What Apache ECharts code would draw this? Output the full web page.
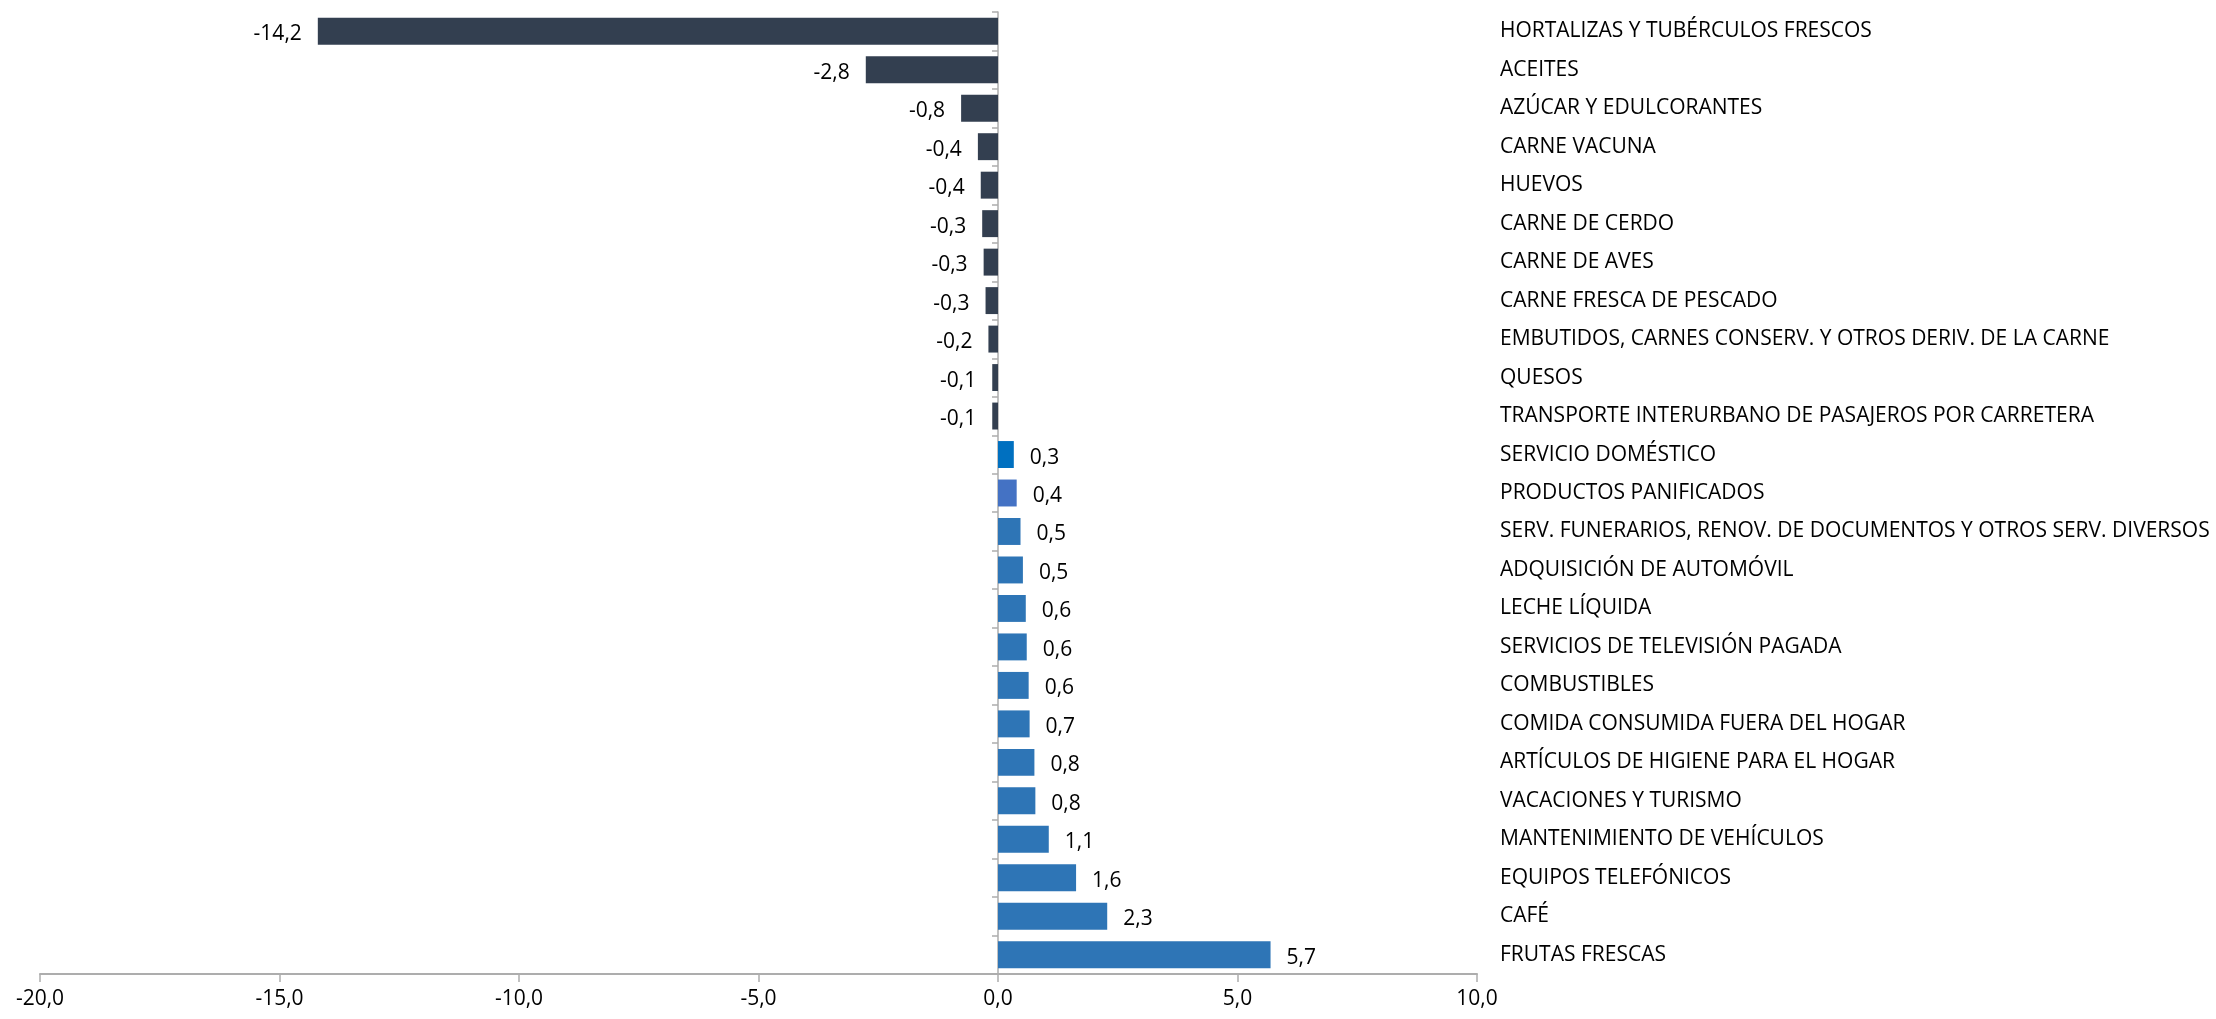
<!DOCTYPE html>
<html>
<head>
<meta charset="utf-8">
<script src="https://cdn.jsdelivr.net/npm/echarts@6/dist/echarts.min.js"></script>
<style>
html,body{margin:0;padding:0;background:#fff;}
#chart{width:2216px;height:1019px;}
</style>
</head>
<body>
<div id="chart"></div>
<script>
const categories = [
  "HORTALIZAS Y TUBÉRCULOS FRESCOS",
  "ACEITES",
  "AZÚCAR Y EDULCORANTES",
  "CARNE VACUNA",
  "HUEVOS",
  "CARNE DE CERDO",
  "CARNE DE AVES",
  "CARNE FRESCA DE PESCADO",
  "EMBUTIDOS, CARNES CONSERV. Y OTROS DERIV. DE LA CARNE",
  "QUESOS",
  "TRANSPORTE INTERURBANO DE PASAJEROS POR CARRETERA",
  "SERVICIO DOMÉSTICO",
  "PRODUCTOS PANIFICADOS",
  "SERV. FUNERARIOS, RENOV. DE DOCUMENTOS Y OTROS SERV. DIVERSOS",
  "ADQUISICIÓN DE AUTOMÓVIL",
  "LECHE LÍQUIDA",
  "SERVICIOS DE TELEVISIÓN PAGADA",
  "COMBUSTIBLES",
  "COMIDA CONSUMIDA FUERA DEL HOGAR",
  "ARTÍCULOS DE HIGIENE PARA EL HOGAR",
  "VACACIONES Y TURISMO",
  "MANTENIMIENTO DE VEHÍCULOS",
  "EQUIPOS TELEFÓNICOS",
  "CAFÉ",
  "FRUTAS FRESCAS"
];
const values = [-14.2, -2.76, -0.77, -0.42, -0.36, -0.33, -0.30, -0.26, -0.20, -0.12, -0.12,
  0.33, 0.39, 0.47, 0.52, 0.58, 0.60, 0.64, 0.66, 0.76, 0.78, 1.06, 1.63, 2.28, 5.69];
const xTicks = { min: -20, max: 10, step: 5 };

const negColor = '#333F50';
const posColor = '#2E75B6';
const specialColors = { "SERVICIO DOMÉSTICO": '#0070C0', "PRODUCTOS PANIFICADOS": '#4472C4' };
const fmt = v => v.toFixed(1).replace('.', ',');
const FONT = '"Open Sans", sans-serif';

const seriesData = values.map((v, i) => ({
  value: v,
  itemStyle: { color: specialColors[categories[i]] || (v < 0 ? negColor : posColor) },
  label: { position: v < 0 ? 'left' : 'right' }
}));

const chart = echarts.init(document.getElementById('chart'), null, { renderer: 'canvas' });
chart.setOption({
  animation: false,
  backgroundColor: '#ffffff',
  grid: { left: 40, right: 739, top: 12, bottom: 45, containLabel: false },
  xAxis: {
    type: 'value',
    min: xTicks.min, max: xTicks.max, interval: xTicks.step,
    splitLine: { show: false },
    axisLine: { show: true, onZero: false, lineStyle: { color: '#ADADAD', width: 2 } },
    axisTick: { show: true, length: 8, lineStyle: { color: '#ADADAD', width: 1.5 } },
    axisLabel: { formatter: v => fmt(v), color: '#000', fontFamily: FONT, fontSize: 21, margin: 15 }
  },
  yAxis: [
    {
      type: 'category', data: categories, inverse: true,
      axisLine: { show: true, onZero: true, lineStyle: { color: '#ADADAD', width: 1.5 } },
      axisTick: { show: true, length: 6, lineStyle: { color: '#ADADAD', width: 1.5 } },
      axisLabel: { show: false },
      splitLine: { show: false }
    },
    {
      type: 'category', data: categories, inverse: true, position: 'right',
      axisLine: { show: false }, axisTick: { show: false },
      axisLabel: { show: true, color: '#000', fontFamily: FONT, fontSize: 21, margin: 23, align: 'left',
        padding: [5, 0, 0, 0] },
      splitLine: { show: false }
    }
  ],
  series: [{
    type: 'bar',
    yAxisIndex: 0,
    data: seriesData,
    barCategoryGap: '30%',
    label: {
      show: true, distance: 16, color: '#000', fontFamily: FONT, fontSize: 21,
      offset: [0, 3],
      formatter: p => fmt(p.value)
    }
  }]
});
</script>
</body>
</html>
